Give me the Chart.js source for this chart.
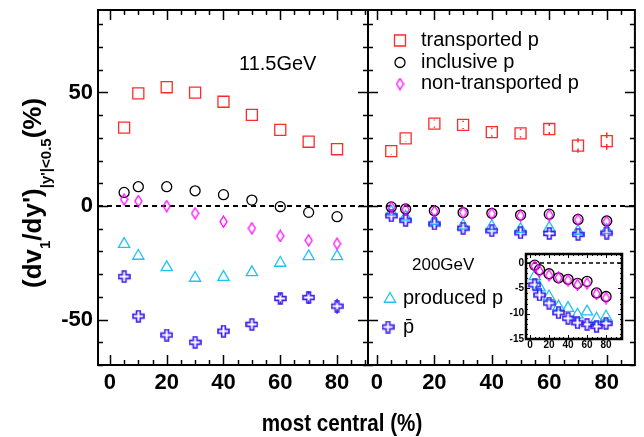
<!DOCTYPE html>
<html lang="en">
<head>
<meta charset="UTF-8">
<title>dv1/dy' vs centrality</title>
<script src="https://cdn.jsdelivr.net/npm/chart.js"></script>
<style>
    body { margin: 0; background: #fff; }
    #wrap { position: relative; width: 644px; height: 437px; }
    #wrap canvas { position: absolute; }
</style>
</head>
<body>
<div id="wrap">
    <canvas id="left" width="644" height="437" style="left:0;top:0"></canvas>
    <canvas id="right" width="644" height="437" style="left:0;top:0"></canvas>
    <canvas id="inset" width="130" height="110" style="left:500px;top:245px"></canvas>
</div>

<script>
// centralitas (sumbu x)
const cent = [5, 10, 20, 30, 40, 50, 60, 70, 80];

// 11.5 GeV
const trans11 = [34.5, 49.6, 52.3, 49.9, 45.9, 40.1, 33.5, 28.3, 25.0];
const incl11  = [6.0, 8.5, 8.5, 6.7, 5.0, 2.6, -0.3, -2.8, -4.7];
const nontr11 = [2.9, 2.2, 0.0, -3.2, -6.9, -9.8, -13.2, -15.1, -16.6];
const prod11  = [-16.8, -22.0, -27.0, -31.7, -31.3, -29.2, -25.1, -22.2, -22.2];
const pbar11  = [-31.1, -48.5, -56.8, -60.0, -55.1, -52.1, -40.7, -40.3, -44.1];
const errPbar11 = [1.0, 1.0, 1.0, 1.0, 1.0, 1.2, 2.3, 2.8, 3.3];

// 200 GeV
const trans200 = [24.2, 29.8, 36.3, 35.7, 32.5, 32.0, 33.9, 26.6, 28.6];
const incl200  = [-0.4, -1.3, -2.1, -2.9, -3.2, -4.0, -3.6, -5.9, -6.6];
const nontr200 = [-0.6, -1.6, -2.4, -2.9, -3.4, -4.3, -4.0, -6.1, -6.9];
const prod200  = [-2.6, -4.8, -6.6, -8.6, -8.9, -10.2, -9.6, -11.0, -10.6];
const pbar200  = [-4.3, -6.3, -7.9, -9.8, -10.9, -11.8, -12.1, -12.5, -11.9];
const errTrans200 = [1.5, 1.5, 1.8, 1.8, 2.0, 2.0, 2.6, 3.2, 3.8];

// label sumbu
const xTicks = [0, 20, 40, 60, 80];
const yTicks = [-50, 0, 50];
const insetYTicks = [-15, -10, -5, 0];

const FONT = "'Liberation Sans', Arial, Helvetica, sans-serif";
Chart.defaults.font.family = FONT;
Chart.defaults.color = '#000';

const RED = '#ff2a2a', MAG = '#ff00ff', CYAN = '#1ec4f0', BLUE = '#3a1ff0';

function pts(arr) {
    return cent.map((c, i) => ({ x: c, y: arr[i] }));
}

// marker belah ketupat (lebih sempit dari rectRot)
function diamondImg(w, h, color) {
    const c = document.createElement('canvas');
    c.width = w + 2; c.height = h + 2;
    const g = c.getContext('2d');
    g.strokeStyle = color; g.lineWidth = 1.3;
    g.beginPath();
    g.moveTo(c.width / 2, 1);
    g.lineTo(c.width - 1, c.height / 2);
    g.lineTo(c.width / 2, c.height - 1);
    g.lineTo(1, c.height / 2);
    g.closePath();
    g.stroke();
    return c;
}

// marker salib terbuka
function crossImg(s, color) {
    const c = document.createElement('canvas');
    c.width = c.height = s + 2;
    const g = c.getContext('2d');
    const a = 1, b = 1 + s / 3, d = 1 + 2 * s / 3, e = 1 + s;
    g.strokeStyle = color; g.lineWidth = 1.6;
    g.beginPath();
    g.moveTo(b, a); g.lineTo(d, a); g.lineTo(d, b); g.lineTo(e, b); g.lineTo(e, d);
    g.lineTo(d, d); g.lineTo(d, e); g.lineTo(b, e); g.lineTo(b, d); g.lineTo(a, d);
    g.lineTo(a, b); g.lineTo(b, b); g.closePath();
    g.stroke();
    return c;
}

const DIAMOND = diamondImg(7, 11, MAG);
const CROSS = crossImg(11, BLUE);

function ds(label, arr, style, color, radius, extra) {
    return Object.assign({
        label: label,
        data: pts(arr),
        pointStyle: style,
        pointRadius: radius,
        pointBorderColor: color,
        pointBackgroundColor: 'rgba(0,0,0,0)',
        pointBorderWidth: 1.3,
        borderColor: color,
        showLine: false
    }, extra || {});
}

// bingkai, tick ke dalam, garis nol putus-putus, error bar
const panelFrame = {
    id: 'panelFrame',
    beforeDraw(chart, args, o) {
        if (!o.background) return;
        const a = chart.chartArea, ctx = chart.ctx;
        ctx.save();
        ctx.fillStyle = o.background;
        ctx.fillRect(a.left, a.top, a.width, a.height);
        ctx.restore();
    },
    beforeDatasetsDraw(chart, args, o) {
        const ctx = chart.ctx, a = chart.chartArea;
        const xs = chart.scales.x, ys = chart.scales.y;
        ctx.save();
        ctx.strokeStyle = '#000';
        ctx.lineWidth = o.zeroWidth;
        ctx.setLineDash(o.dash);
        const y0 = ys.getPixelForValue(0);
        ctx.beginPath(); ctx.moveTo(a.left, y0); ctx.lineTo(a.right, y0); ctx.stroke();
        ctx.setLineDash([]);
        chart.data.datasets.forEach(d => {
            if (!d.errors) return;
            ctx.strokeStyle = d.borderColor;
            ctx.lineWidth = 1.5;
            d.data.forEach((p, i) => {
                const px = xs.getPixelForValue(p.x);
                const pc = ys.getPixelForValue(p.y);
                const top = ys.getPixelForValue(p.y + d.errors[i]);
                const bot = ys.getPixelForValue(p.y - d.errors[i]);
                const gap = 3;
                ctx.beginPath();
                if (pc - top > gap) { ctx.moveTo(px, top); ctx.lineTo(px, pc - gap); }
                if (bot - pc > gap) { ctx.moveTo(px, pc + gap); ctx.lineTo(px, bot); }
                ctx.stroke();
            });
        });
        ctx.restore();
    },
    afterDatasetsDraw(chart, args, o) {
        const ctx = chart.ctx, a = chart.chartArea;
        const xs = chart.scales.x, ys = chart.scales.y;
        ctx.save();
        ctx.strokeStyle = '#000';
        ctx.lineWidth = o.width;
        ctx.strokeRect(a.left, a.top, a.width, a.height);
        ctx.lineWidth = o.tickWidth;
        ctx.beginPath();
        for (let i = Math.ceil(xs.min / o.xMinor); i * o.xMinor <= xs.max; i++) {
            const v = i * o.xMinor;
            const len = (Math.round(v) % o.xMajor === 0) ? o.major : o.minor;
            const px = Math.round(xs.getPixelForValue(v)) + 0.5;
            ctx.moveTo(px, a.bottom); ctx.lineTo(px, a.bottom - len);
            ctx.moveTo(px, a.top); ctx.lineTo(px, a.top + len);
        }
        for (let i = Math.ceil(ys.min / o.yMinor); i * o.yMinor <= ys.max; i++) {
            const v = i * o.yMinor;
            const len = (Math.round(v) % o.yMajor === 0) ? o.major : o.minor;
            const py = Math.round(ys.getPixelForValue(v)) + 0.5;
            ctx.moveTo(a.left, py); ctx.lineTo(a.left + len, py);
            ctx.moveTo(a.right, py); ctx.lineTo(a.right - len, py);
        }
        ctx.stroke();
        ctx.restore();
    }
};

function legendMark(ctx, style, color, r, x, y) {
    ctx.save();
    ctx.strokeStyle = color;
    ctx.fillStyle = 'rgba(0,0,0,0)';
    ctx.lineWidth = 1.3;
    Chart.helpers.drawPoint(ctx, { pointStyle: style, radius: r, rotation: 0, borderWidth: 1.3 }, x, y);
    ctx.restore();
}

// judul sumbu dan label energi di panel kiri
const leftText = {
    id: 'leftText',
    afterDraw(chart) {
        const ctx = chart.ctx;
        ctx.save();
        ctx.fillStyle = '#000';
        ctx.textBaseline = 'alphabetic';

        // judul sumbu y dengan subskrip
        const big = 'bold 26px ' + FONT, small = 'bold 15px ' + FONT;
        const parts = [['(dv', big, 0], ['1', small, 9], ["/dy')", big, 0], ["|y'|<0.5", small, 10], ['(%)', big, 0]];
        ctx.translate(41, 288);
        ctx.rotate(-Math.PI / 2);
        let x = 0;
        parts.forEach(p => {
            ctx.font = p[1];
            ctx.fillText(p[0], x, p[2]);
            x += ctx.measureText(p[0]).width;
        });
        ctx.setTransform(1, 0, 0, 1, 0, 0);

        // judul sumbu x
        ctx.save();
        ctx.font = 'bold 24px ' + FONT;
        ctx.textAlign = 'center';
        ctx.translate(342, 431);
        ctx.scale(0.86, 1);
        ctx.fillText('most central (%)', 0, 0);
        ctx.restore();

        ctx.font = '20px ' + FONT;
        ctx.textAlign = 'left';
        ctx.fillText('11.5GeV', 239, 70);
        ctx.restore();
    }
};

// legenda di panel kanan
const rightText = {
    id: 'rightText',
    afterDraw(chart) {
        const ctx = chart.ctx;
        legendMark(ctx, 'rect', RED, 7.8, 400, 40.5);
        legendMark(ctx, 'circle', '#000', 5, 400, 62.5);
        legendMark(ctx, DIAMOND, MAG, 6, 400, 84);
        legendMark(ctx, 'triangle', CYAN, 6.5, 390, 299);
        legendMark(ctx, CROSS, BLUE, 6, 388, 327);
        ctx.save();
        ctx.fillStyle = '#000';
        ctx.font = '20px ' + FONT;
        ctx.fillText('transported p', 421, 45.5);
        ctx.fillText('inclusive p', 421, 67.5);
        ctx.fillText('non-transported p', 421, 89);
        ctx.fillText('produced p', 403, 303.5);
        ctx.fillText('p\u0304', 403, 333);
        ctx.font = '17px ' + FONT;
        ctx.fillText('200GeV', 412, 270);
        ctx.restore();
    }
};

function xAxis(min, max, size, pad, height) {
    return {
        type: 'linear', min: min, max: max,
        grid: { display: false, drawTicks: false },
        border: { display: false },
        ticks: { font: { size: size, weight: 'bold' }, padding: pad, maxRotation: 0 },
        afterBuildTicks: s => { s.ticks = xTicks.map(v => ({ value: v })); },
        afterFit: s => { s.height = height; s.paddingLeft = 0; s.paddingRight = 0; }
    };
}

function yAxis(min, max, ticks, size, pad, width) {
    return {
        type: 'linear', min: min, max: max,
        grid: { display: false, drawTicks: false },
        border: { display: false },
        ticks: { display: ticks !== null, font: { size: size, weight: 'bold' }, padding: pad },
        afterBuildTicks: s => { s.ticks = (ticks || []).map(v => ({ value: v })); },
        afterFit: s => { s.width = width; s.paddingTop = 0; s.paddingBottom = 0; }
    };
}

const mainFrame = {
    width: 2, tickWidth: 1.5, major: 10, minor: 5,
    xMajor: 20, xMinor: 5, yMajor: 50, yMinor: 10,
    zeroWidth: 2, dash: [5, 4]
};

const baseOpts = {
    responsive: false,
    maintainAspectRatio: false,
    animation: false,
    events: [],
    plugins: { legend: { display: false }, tooltip: { enabled: false } }
};

// panel kiri: 11.5 GeV
new Chart(document.getElementById('left'), {
    type: 'scatter',
    data: {
        datasets: [
            ds('transported p', trans11, 'rect', RED, 7.8),
            ds('non-transported p', nontr11, DIAMOND, MAG, 6),
            ds('inclusive p', incl11, 'circle', '#000', 5),
            ds('p\u0304', pbar11, CROSS, BLUE, 6, { errors: errPbar11 }),
            ds('produced p', prod11, 'triangle', CYAN, 6.5)
        ]
    },
    options: Object.assign({}, baseOpts, {
        layout: { padding: { left: 0, top: 10, right: 276, bottom: 0 } },
        plugins: Object.assign({}, baseOpts.plugins, { panelFrame: mainFrame }),
        scales: {
            x: xAxis(-4.2, 90.9, 22, 5, 72),
            y: yAxis(-70, 86.3, yTicks, 22, 5, 98)
        }
    }),
    plugins: [panelFrame, leftText]
});

// panel kanan: 200 GeV
new Chart(document.getElementById('right'), {
    type: 'scatter',
    data: {
        datasets: [
            ds('transported p', trans200, 'rect', RED, 7.8, { errors: errTrans200 }),
            ds('non-transported p', nontr200, DIAMOND, MAG, 6),
            ds('inclusive p', incl200, 'circle', '#000', 5),
            ds('p\u0304', pbar200, CROSS, BLUE, 6),
            ds('produced p', prod200, 'triangle', CYAN, 6.5)
        ]
    },
    options: Object.assign({}, baseOpts, {
        layout: { padding: { left: 368, top: 10, right: 8, bottom: 0 } },
        plugins: Object.assign({}, baseOpts.plugins, { panelFrame: mainFrame }),
        scales: {
            x: xAxis(-3.1, 89.8, 22, 5, 72),
            y: yAxis(-70, 86.3, null, 22, 0, 0)
        }
    }),
    plugins: [panelFrame, rightText]
});

// inset: 200 GeV diperbesar
new Chart(document.getElementById('inset'), {
    type: 'scatter',
    data: {
        datasets: [
            ds('non-transported p', nontr200, DIAMOND, MAG, 6),
            ds('inclusive p', incl200, 'circle', '#000', 5),
            ds('p\u0304', pbar200, CROSS, BLUE, 6),
            ds('produced p', prod200, 'triangle', CYAN, 6.5)
        ]
    },
    options: Object.assign({}, baseOpts, {
        layout: { padding: { left: 0, top: 9, right: 8, bottom: 0 } },
        plugins: Object.assign({}, baseOpts.plugins, {
            panelFrame: {
                background: '#fff', width: 2.5, tickWidth: 1, major: 4, minor: 2,
                xMajor: 20, xMinor: 5, yMajor: 5, yMinor: 1,
                zeroWidth: 1.5, dash: [4, 3]
            }
        }),
        scales: {
            x: xAxis(-4.2, 96.8, 10, 0, 16),
            y: yAxis(-15, 1.8, insetYTicks, 10, 2, 26)
        }
    }),
    plugins: [panelFrame]
});
</script>
</body>
</html>
